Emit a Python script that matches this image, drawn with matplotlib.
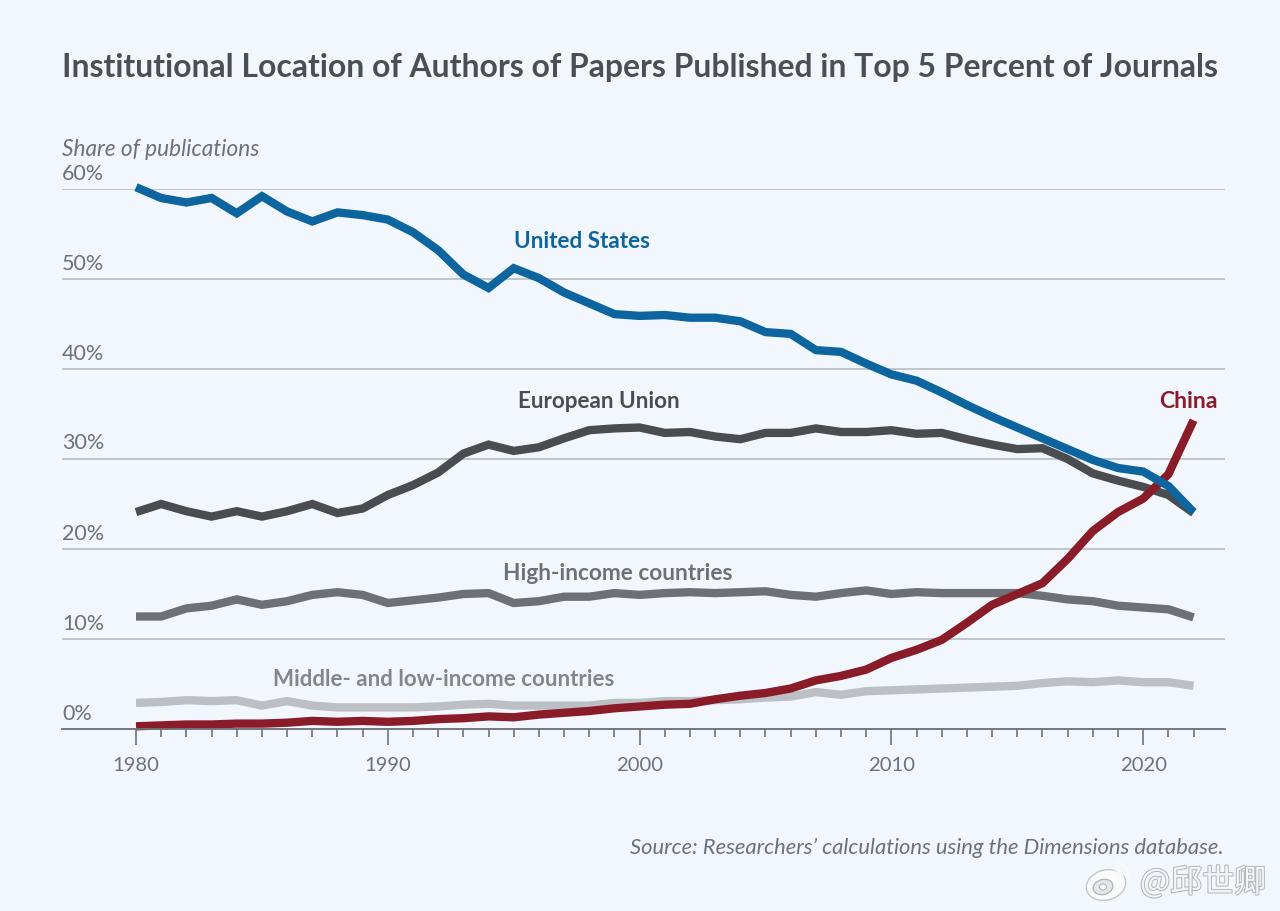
# plot.py
# Institutional location of authors, share of top 5 percent journal papers

import matplotlib
matplotlib.use('Agg')
import matplotlib.pyplot as plt
import matplotlib.patheffects as pe
from matplotlib.patches import Ellipse, Arc

plt.rcParams['font.family'] = ['Lato', 'DejaVu Sans']

years = list(range(1980, 2023))

united_states = [60.2, 59.0, 58.5, 59.0, 57.3, 59.2, 57.5, 56.4, 57.4, 57.1,
                 56.6, 55.2, 53.2, 50.5, 49.0, 51.2, 50.1, 48.5, 47.3, 46.1,
                 45.9, 46.0, 45.7, 45.7, 45.3, 44.1, 43.9, 42.1, 41.9, 40.6,
                 39.4, 38.7, 37.4, 36.0, 34.7, 33.5, 32.3, 31.1, 29.9, 29.0,
                 28.6, 27.0, 24.1]
european_union = [24.1, 25.0, 24.2, 23.6, 24.2, 23.6, 24.2, 25.0, 24.0, 24.5,
                  26.0, 27.1, 28.5, 30.6, 31.6, 30.9, 31.3, 32.3, 33.2, 33.4,
                  33.5, 32.9, 33.0, 32.5, 32.2, 32.9, 32.9, 33.4, 33.0, 33.0,
                  33.2, 32.8, 32.9, 32.2, 31.6, 31.1, 31.2, 30.0, 28.4, 27.6,
                  26.9, 26.0, 24.0]
high_income = [12.5, 12.5, 13.4, 13.7, 14.4, 13.8, 14.2, 14.9, 15.2, 14.9,
               14.0, 14.3, 14.6, 15.0, 15.1, 14.0, 14.2, 14.7, 14.7, 15.1,
               14.9, 15.1, 15.2, 15.1, 15.2, 15.3, 14.9, 14.7, 15.1, 15.4,
               15.0, 15.2, 15.1, 15.1, 15.1, 15.1, 14.8, 14.4, 14.2, 13.7,
               13.5, 13.3, 12.4]
middle_low_income = [2.9, 3.0, 3.2, 3.1, 3.2, 2.6, 3.1, 2.6, 2.4, 2.4,
                     2.4, 2.4, 2.5, 2.7, 2.8, 2.6, 2.6, 2.6, 2.6, 2.9,
                     2.9, 3.1, 3.1, 3.2, 3.3, 3.5, 3.6, 4.1, 3.8, 4.2,
                     4.3, 4.4, 4.5, 4.6, 4.7, 4.8, 5.1, 5.3, 5.2, 5.4,
                     5.2, 5.2, 4.8]
china = [0.3, 0.4, 0.5, 0.5, 0.6, 0.6, 0.7, 0.9, 0.8, 0.9,
         0.8, 0.9, 1.1, 1.2, 1.4, 1.3, 1.6, 1.8, 2.0, 2.3,
         2.5, 2.7, 2.8, 3.3, 3.7, 4.0, 4.5, 5.4, 5.9, 6.6,
         7.9, 8.8, 9.9, 11.8, 13.8, 15.0, 16.2, 18.9, 22.0, 24.1,
         25.6, 28.3, 34.3]

y_ticks = [0, 10, 20, 30, 40, 50, 60]
y_tick_labels = ['0%', '10%', '20%', '30%', '40%', '50%', '60%']
x_ticks = [1980, 1990, 2000, 2010, 2020]

BG = '#f1f7fd'
GREY_TEXT = '#6d7278'
W, H = 1280, 911
LW = 6

fig = plt.figure(figsize=(12.8, 9.11), dpi=100, facecolor=BG)
# axes box in pixels: x 62-1225, y 189 (60%) - 729 (0%)
ax = fig.add_axes([62 / W, 1 - 729 / H, (1225 - 62) / W, (729 - 189) / H], facecolor=BG)
ax.set_xlim(1977.06, 2023.25)
ax.set_ylim(0, 60)

for s in ['top', 'left', 'right']:
    ax.spines[s].set_visible(False)
ax.spines['bottom'].set_color('#6d7278')
ax.spines['bottom'].set_linewidth(1.3)

ax.set_yticks(y_ticks)
ax.set_yticklabels([])
ax.tick_params(axis='y', length=0)
ax.grid(axis='y', color='#b3b8bd', linewidth=1.1)
ax.set_axisbelow(True)

ax.set_xticks(x_ticks)
ax.set_xticks(years, minor=True)
ax.tick_params(axis='x', which='major', length=11.5, width=1.2, color='#6d7278',
               labelsize=14.6, labelcolor=GREY_TEXT, pad=9)
ax.tick_params(axis='x', which='minor', length=5.5, width=1.2, color='#6d7278')

# y labels sit on top of the grid lines
for v, lab in zip(y_ticks, y_tick_labels):
    fig.text(62 / W, 1 - (729 - v * 9 - 15.5) / H, lab, fontsize=15.5, color=GREY_TEXT,
             ha='left', va='center')

ax.plot(years, middle_low_income, color='#bcbfc3', lw=LW, clip_on=False, solid_joinstyle='miter', solid_capstyle='butt')
ax.plot(years, high_income, color='#6d7075', lw=LW, clip_on=False, solid_joinstyle='miter', solid_capstyle='butt')
ax.plot(years, european_union, color='#4a4c50', lw=LW, clip_on=False, solid_joinstyle='miter', solid_capstyle='butt')
ax.plot(years, china, color='#8a1c2a', lw=LW, clip_on=False, solid_joinstyle='miter', solid_capstyle='butt')
ax.plot(years, united_states, color='#0c659f', lw=LW, clip_on=False, solid_joinstyle='miter', solid_capstyle='butt')

fig.text(62 / W, 1 - 68 / H, 'Institutional Location of Authors of Papers Published in Top 5 Percent of Journals',
         fontsize=22.95, fontweight='bold', color='#4b4e52', ha='left', va='center')
fig.text(62 / W, 1 - 150 / H, 'Share of publications', fontsize=16.3, style='italic',
         color=GREY_TEXT, ha='left', va='center')
fig.text(1224 / W, 1 - 848 / H, 'Source: Researchers\u2019 calculations using the Dimensions database.',
         fontsize=15.8, style='italic', color=GREY_TEXT, ha='right', va='center')

# series labels
fig.text(514 / W, 1 - 242 / H, 'United States', fontsize=16.2, fontweight='bold', color='#0c659f', va='center')
fig.text(518 / W, 1 - 402 / H, 'European Union', fontsize=16.2, fontweight='bold', color='#4a4c50', va='center')
fig.text(503 / W, 1 - 573 / H, 'High-income countries', fontsize=16.3, fontweight='bold', color='#6d7075', va='center')
fig.text(273 / W, 1 - 680 / H, 'Middle- and low-income countries', fontsize=16.1, fontweight='bold', color='#83878b', va='center')
fig.text(1159 / W, 1 - 402 / H, 'China', fontsize=16.6, fontweight='bold', color='#8a1c2a', va='center')

# watermark, text and a rough logo (patches are in pixels, y counted from the bottom)
fig.text(1140 / W, 1 - 883 / H, '@邱世卿', fontsize=23, color='#f4f5f6',
         family=['Noto Sans CJK SC', 'DejaVu Sans'], va='center',
         path_effects=[pe.withStroke(linewidth=1.5, foreground='#b5b8bb')])
fig.add_artist(Ellipse((1106, H - 885), 40, 30, angle=15, transform=None,
                       facecolor='#fbfbfc', edgecolor='#c4c7ca', linewidth=1))
fig.add_artist(Ellipse((1103, H - 887), 20, 15, angle=15, transform=None,
                       facecolor='#e4e6e8', edgecolor='#b5b8bb', linewidth=1))
fig.add_artist(Ellipse((1103, H - 887), 7, 6, transform=None,
                       facecolor='#fbfbfc', edgecolor='#b5b8bb', linewidth=0.8))
fig.add_artist(Arc((1112, H - 878), 20, 20, theta1=-10, theta2=80, transform=None,
                   color='#f8f9fa', linewidth=2.5))
fig.add_artist(Arc((1112, H - 878), 34, 34, theta1=-10, theta2=80, transform=None,
                   color='#f8f9fa', linewidth=2.5))

fig.savefig('out.png', dpi=100, facecolor=BG)
